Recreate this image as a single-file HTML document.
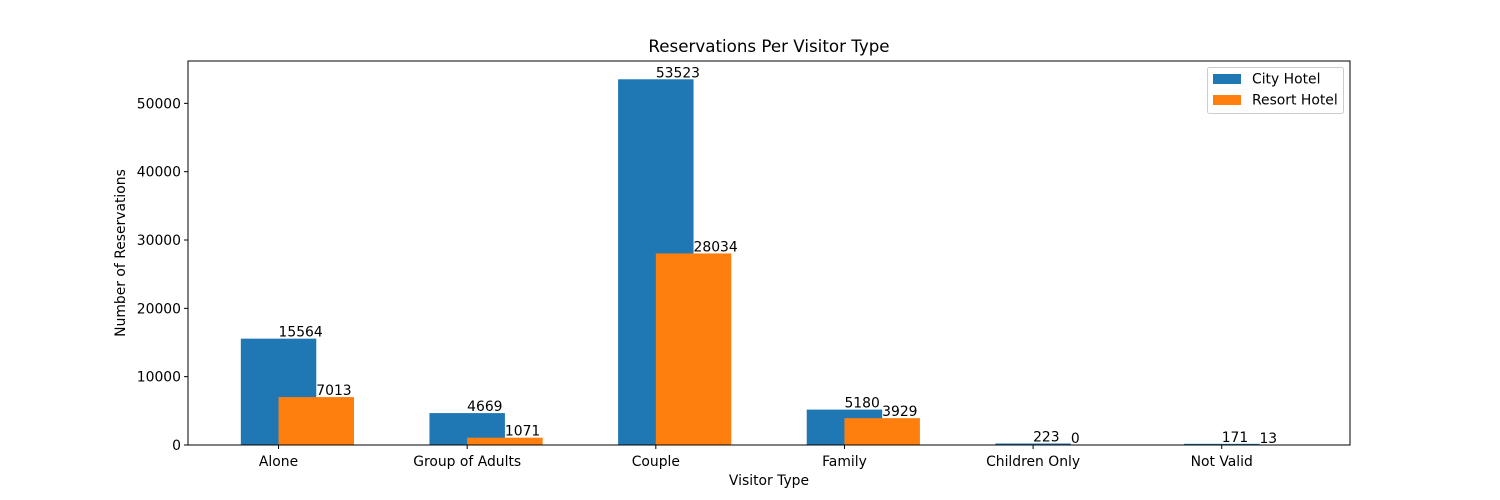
<!DOCTYPE html>
<html><head><meta charset="utf-8"><style>
body{margin:0;background:#fff}
svg{display:block;font-family:"DejaVu Sans","Liberation Sans",sans-serif}
</style></head><body>
<svg id="c" width="1500" height="500" xmlns="http://www.w3.org/2000/svg">
<rect width="1500" height="500" fill="#fff"/>
<text x="769" y="52" font-size="16.7" text-anchor="middle">Reservations Per Visitor Type</text>
<text x="769" y="485" font-size="13.9" text-anchor="middle">Visitor Type</text>
<text transform="translate(125,253) rotate(-90)" font-size="13.9" text-anchor="middle">Number of Reservations</text>
<g id="bars"></g><g id="axes"></g>
<g>
<rect x="1207.5" y="67.5" width="136" height="46" rx="2" fill="#fff" stroke="#ccc"/>
<rect x="1213" y="74" width="28" height="10" fill="#1f77b4"/>
<text x="1252" y="83.5" font-size="13.9">City Hotel</text>
<rect x="1213" y="95" width="28" height="10" fill="#ff7f0e"/>
<text x="1252" y="104.5" font-size="13.9">Resort Hotel</text>
</g>
</svg>
<script>
const categories=["Alone","Group of Adults","Couple","Family","Children Only","Not Valid"];
const cityValues=[15564,4669,53523,5180,223,171];
const resortValues=[7013,1071,28034,3929,0,13];
const yTicks=[0,10000,20000,30000,40000,50000];
const NS="http://www.w3.org/2000/svg";
const L=188,R=1350,T=61,B=445;
const xmin=-0.48,xmax=5.68;
const ymax=Math.max(...cityValues,...resortValues)*1.05;
const X=v=>L+(v-xmin)/(xmax-xmin)*(R-L);
const Y=v=>B-v/ymax*(B-T);
const bars=document.getElementById('bars'),axes=document.getElementById('axes');
function mk(tag,attrs,parent,text){const e=document.createElementNS(NS,tag);for(const k in attrs)e.setAttribute(k,attrs[k]);if(text!==undefined)e.textContent=text;parent.appendChild(e);return e;}
const series=[[cityValues,'#1f77b4',-0.2,'city'],[resortValues,'#ff7f0e',0,'resort']];
series.forEach(([vals,col,off,nm])=>{
  vals.forEach((v,i)=>{
    const x0=X(i+off),x1=X(i+off+0.4);
    const r=mk('rect',{x:x0,y:Y(v),width:x1-x0,height:B-Y(v),fill:col},bars);
    
    
    const t=mk('text',{x:X(i+off+0.2),y:Y(v)-2,'font-size':13.9},bars,String(v));
    
    
  });
});
const frame=mk('rect',{x:L,y:T,width:R-L,height:B-T,fill:'none',stroke:'#000','stroke-width':1},axes);


categories.forEach((c,i)=>{
  const x=X(i);
  mk('line',{x1:x,x2:x,y1:B,y2:B+4,stroke:'#000'},axes);
  const t=mk('text',{x:x,y:B+21,'font-size':13.9,'text-anchor':'middle'},axes,c);
  
  
});
yTicks.forEach(v=>{
  const y=Y(v);
  mk('line',{x1:L-4,x2:L,y1:y,y2:y,stroke:'#000'},axes);
  const t=mk('text',{x:L-7,y:y+5,'font-size':13.9,'text-anchor':'end'},axes,String(v));
  
  
});
</script>
</body></html>
